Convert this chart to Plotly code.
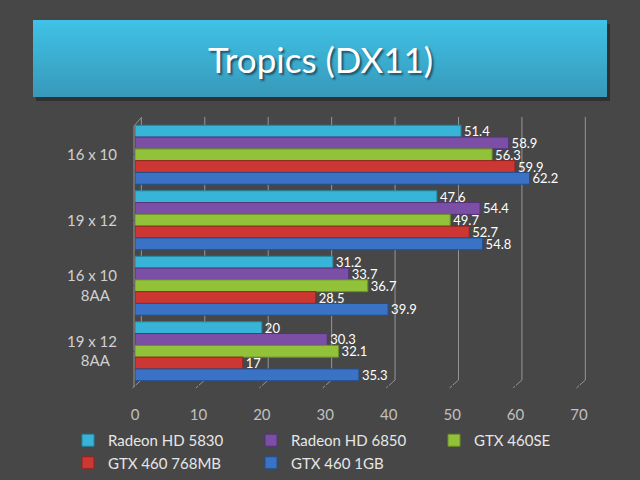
import plotly.graph_objects as go

categories = ["16 x 10", "19 x 12", "16 x 10<br>8AA\u00a0\u00a0", "19 x 12<br>8AA\u00a0\u00a0"]
series_names = ["Radeon HD 5830", "Radeon HD 6850", "GTX 460SE", "GTX 460 768MB", "GTX 460 1GB"]
radeon_5830 = [51.4, 47.6, 31.2, 20]
radeon_6850 = [58.9, 54.4, 33.7, 30.3]
gtx_460se = [56.3, 49.7, 36.7, 32.1]
gtx_460_768 = [59.9, 52.7, 28.5, 17]
gtx_460_1gb = [62.2, 54.8, 39.9, 35.3]
x_ticks = [0, 10, 20, 30, 40, 50, 60, 70]

series_values = [radeon_5830, radeon_6850, gtx_460se, gtx_460_768, gtx_460_1gb]
colors = ["#37b4d8", "#7b4fa6", "#92c13a", "#cc3733", "#3a72c6"]
edge_colors = ["#23869f", "#56337a", "#6b8f28", "#922421", "#244f8d"]

BG = "#474747"
W, H = 640, 480
L, R, T, B = 135, 61, 122, 96
PW = W - L - R
PH = H - T - B
XMAX = 70


def px_x(p):
    return (p - L) / PW


def px_y(p):
    return (H - B - p) / PH


fig = go.Figure()
for name, vals, c, ec in zip(series_names, series_values, colors, edge_colors):
    fig.add_trace(go.Bar(
        y=categories, x=vals, name=name, orientation="h",
        marker=dict(color=c, line=dict(color=ec, width=1)),
        text=vals, texttemplate="%{x}", textposition="outside",
        constraintext="none",
        textfont=dict(color="#ffffff", size=13, family="Lato"),
        cliponaxis=False,
    ))

shapes = []
# title box shadow + gradient
bx0, bx1, by0, by1 = 33, 607, 20, 97
shapes.append(dict(type="rect", xref="paper", yref="paper",
                   x0=px_x(bx0 + 3), x1=px_x(bx1 + 3), y0=px_y(by1 + 4), y1=px_y(by0 + 4),
                   fillcolor="#303030", line=dict(width=0), layer="below"))
n = 24
top_c = (0x40, 0xc2, 0xe6)
bot_c = (0x38, 0x9a, 0xbb)
for i in range(n):
    f = i / (n - 1)
    col = "rgb(%d,%d,%d)" % tuple(int(a + (b - a) * f) for a, b in zip(top_c, bot_c))
    ya = by0 + (by1 - by0) * i / n
    shapes.append(dict(type="rect", xref="paper", yref="paper",
                       x0=px_x(bx0), x1=px_x(bx1), y0=px_y(by1), y1=px_y(ya),
                       fillcolor=col, line=dict(width=0), layer="below"))

# 3D style gridlines (back plane offset)
grid_col = "#959595"
back_top, back_bot, front_bot = 117, 380, 388
for v in x_ticks:
    xb = px_x(L + (v + 1.0) * PW / XMAX)
    xf = px_x(L + (v - 0.4) * PW / XMAX)
    shapes.append(dict(type="line", xref="paper", yref="paper", x0=xb, x1=xb,
                       y0=px_y(back_top), y1=px_y(back_bot),
                       line=dict(color=grid_col, width=1), layer="below"))
    shapes.append(dict(type="line", xref="paper", yref="paper", x0=xb, x1=xf,
                       y0=px_y(back_bot), y1=px_y(front_bot),
                       line=dict(color=grid_col, width=1), layer="below"))
# left wall
shapes.append(dict(type="line", xref="paper", yref="paper", x0=px_x(134), x1=px_x(134),
                   y0=px_y(126), y1=px_y(387), line=dict(color=grid_col, width=1), layer="below"))
shapes.append(dict(type="line", xref="paper", yref="paper", x0=px_x(134), x1=px_x(141),
                   y0=px_y(126), y1=px_y(118), line=dict(color=grid_col, width=1), layer="below"))

fig.update_layout(
    width=W, height=H,
    margin=dict(l=L, r=R, t=T, b=B, autoexpand=False),
    paper_bgcolor=BG, plot_bgcolor=BG,
    barmode="group", bargap=0.1, bargroupgap=0,
    font=dict(family="Lato", color="#d9d9d9", size=14),
    shapes=shapes,
    showlegend=True,
    legend=dict(orientation="h", x=px_x(68), y=px_y(424), xanchor="left", yanchor="top",
                entrywidth=138, entrywidthmode="pixels", traceorder="normal",
                font=dict(size=15, color="#e6e6e6", family="Lato"),
                bgcolor="rgba(0,0,0,0)", itemwidth=30, tracegroupgap=0),
    annotations=[dict(text="Tropics (DX11)", xref="paper", yref="paper",
                      x=px_x(320), y=px_y(59), showarrow=False,
                      xanchor="center", yanchor="middle",
                      font=dict(size=35, color="#ffffff", family="Lato",
                                shadow="2px 2px 2px rgba(20,60,80,0.8)"))],
)
fig.update_xaxes(range=[0, XMAX], tickvals=x_ticks, showgrid=False, zeroline=False,
                 showline=False, ticks="outside", ticklen=17, tickcolor=BG,
                 tickfont=dict(size=15, color="#c0c0c0"), fixedrange=True)
fig.update_yaxes(autorange="reversed", showgrid=False, zeroline=False, showline=False,
                 ticks="outside", ticklen=14, tickcolor=BG,
                 tickfont=dict(size=15, color="#d0d0d0"), fixedrange=True)

fig.write_html("out.html")
